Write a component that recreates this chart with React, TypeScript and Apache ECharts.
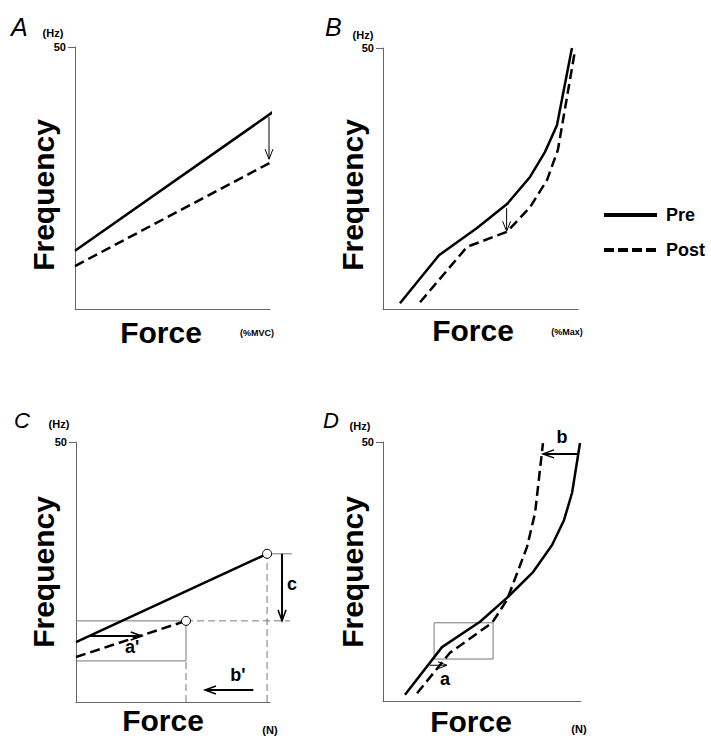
import React, { useEffect, useRef } from "react";
import * as echarts from "echarts";

const FONT = '"Liberation Sans", Arial, Helvetica, sans-serif';

// ---- Data (x: relative force 0-100, y: frequency 0-50 Hz) ----
const panelLetters = ["A", "B", "C", "D"];
const xUnits = ["(%MVC)", "(%Max)", "(N)", "(N)"];
const yUnit = "(Hz)";
const yTopTick = [50];
const legendNames = ["Pre", "Post"];

// Panel A
const aPre = [[0, 11.1], [101.5, 37.6]];
const aPost = [[0, 8.2], [101.5, 28.2]];
const aArrowsThin = [[99.5, 36.6, 99.5, 28.6]];

// Panel B
const bPre = [[8.7, 1.1], [28.7, 10.3], [48.2, 15.5], [63.6, 20.1], [75.4, 25.3], [83.1, 30.1], [89.2, 35.2], [96.9, 50.0]];
const bPost = [[19.0, 1.3], [43.1, 11.9], [63.6, 14.8], [75.4, 19.5], [84.1, 24.7], [89.7, 30.5], [98.5, 49.6]];
const bArrowsThin = [[63.4, 19.3, 63.4, 14.9]];

// Panel C
const cPre = [[0, 11.5], [98.5, 28.5]];
const cPost = [[0, 8.65], [56.7, 15.6]];
const cPoints = [[98.5, 28.5], [56.7, 15.6]];
const cGuidesSolid = [[0, 15.6, 56.7, 15.6], [0, 7.9, 56.7, 7.9], [56.7, 7.9, 56.7, 15.6], [98.5, 28.5, 111.3, 28.5]];
const cGuidesDashed = [[56.7, 15.6, 110.3, 15.6], [56.7, 0, 56.7, 7.9], [98.5, 0, 98.5, 28.5]];
const cArrowsThick = [[106.2, 28.5, 106.2, 15.6], [7.2, 12.7, 33.9, 12.7], [91.4, 2.3, 66.5, 2.3]];
const cLabels = [{ text: "c", x: 111.3, y: 22.7 }, { text: "a'", x: 28.9, y: 10.6 }, { text: "b'", x: 83.5, y: 5.2 }];

// Panel D
const dPre = [[11.1, 1.2], [29.8, 10.4], [49.0, 15.3], [62.6, 19.9], [75.8, 24.9], [85.4, 30.1], [91.4, 34.9], [95.5, 40.2], [99.5, 49.8]];
const dPost = [[17.2, 1.5], [33.8, 9.3], [55.1, 15.1], [62.6, 19.5], [72.7, 29.7], [76.8, 36.3], [80.8, 49.8]];
const dBoxes = [[25.8, 8.1, 55.6, 15.1]];
const dArrowsThin = [[23.7, 6.9, 32.3, 6.9]];
const dArrowsThick = [[98.0, 47.7, 80.8, 47.7]];
const dLabels = [{ text: "a", x: 31.3, y: 4.25 }, { text: "b", x: 90.4, y: 51.0 }];

// ---- Layout ----
const grids = [
  { left: 75, top: 47, width: 195, height: 262 },
  { left: 383, top: 48, width: 195, height: 261 },
  { left: 76, top: 442, width: 194, height: 260 },
  { left: 383, top: 442, width: 198, height: 259 },
];

const AXIS_COLOR = "#666";
const GUIDE_COLOR = "#777";

function lineSeries(name: string, data: number[][], gi: number, dashed: boolean) {
  return {
    type: "line",
    name,
    data,
    xAxisIndex: gi,
    yAxisIndex: gi,
    symbol: "none",
    clip: false,
    silent: true,
    z: 3,
    lineStyle: { color: "#000", width: 2.5, type: dashed ? [10, 5] : "solid" },
    itemStyle: { color: "#000" },
  };
}

function arrowSeries(data: number[][], gi: number, w: number, hl: number, hw: number) {
  return {
    type: "custom",
    xAxisIndex: gi,
    yAxisIndex: gi,
    data,
    clip: false,
    silent: true,
    z: 4,
    renderItem: (params: any, api: any) => {
      const p1 = api.coord([api.value(0), api.value(1)]);
      const p2 = api.coord([api.value(2), api.value(3)]);
      const dx = p2[0] - p1[0];
      const dy = p2[1] - p1[1];
      const len = Math.hypot(dx, dy) || 1;
      const ux = dx / len;
      const uy = dy / len;
      const b1 = [p2[0] - ux * hl - uy * hw, p2[1] - uy * hl + ux * hw];
      const b2 = [p2[0] - ux * hl + uy * hw, p2[1] - uy * hl - ux * hw];
      return {
        type: "group",
        children: [
          { type: "line", shape: { x1: p1[0], y1: p1[1], x2: p2[0], y2: p2[1] }, style: { stroke: "#000", lineWidth: w } },
          { type: "polyline", shape: { points: [b1, p2, b2] }, style: { stroke: "#000", fill: null, lineWidth: Math.max(1, w * 0.75) } },
        ],
      };
    },
  };
}

function segmentSeries(data: number[][], gi: number, dashed: boolean) {
  return {
    type: "custom",
    xAxisIndex: gi,
    yAxisIndex: gi,
    data,
    clip: false,
    silent: true,
    z: 2,
    renderItem: (params: any, api: any) => {
      const p1 = api.coord([api.value(0), api.value(1)]);
      const p2 = api.coord([api.value(2), api.value(3)]);
      return {
        type: "line",
        shape: { x1: p1[0], y1: p1[1], x2: p2[0], y2: p2[1] },
        style: { stroke: GUIDE_COLOR, lineWidth: 1, lineDash: dashed ? [7, 4] : null },
      };
    },
  };
}

function boxSeries(data: number[][], gi: number) {
  return {
    type: "custom",
    xAxisIndex: gi,
    yAxisIndex: gi,
    data,
    clip: false,
    silent: true,
    z: 2,
    renderItem: (params: any, api: any) => {
      const p1 = api.coord([api.value(0), api.value(1)]);
      const p2 = api.coord([api.value(2), api.value(3)]);
      return {
        type: "rect",
        shape: {
          x: Math.min(p1[0], p2[0]),
          y: Math.min(p1[1], p2[1]),
          width: Math.abs(p2[0] - p1[0]),
          height: Math.abs(p2[1] - p1[1]),
        },
        style: { stroke: GUIDE_COLOR, fill: null, lineWidth: 1 },
      };
    },
  };
}

function labelSeries(labels: { text: string; x: number; y: number }[], gi: number) {
  return {
    type: "custom",
    xAxisIndex: gi,
    yAxisIndex: gi,
    data: labels.map((l) => [l.x, l.y]),
    clip: false,
    silent: true,
    z: 5,
    renderItem: (params: any, api: any) => {
      const p = api.coord([api.value(0), api.value(1)]);
      return {
        type: "text",
        x: p[0],
        y: p[1],
        style: {
          text: labels[params.dataIndex].text,
          fill: "#000",
          fontSize: 18,
          fontWeight: "bold",
          fontFamily: FONT,
          align: "center",
          verticalAlign: "middle",
        },
      };
    },
  };
}

function txt(text: string, x: number, y: number, size: number, opts: any = {}) {
  return {
    type: "text",
    x,
    y,
    rotation: opts.rotation || 0,
    silent: true,
    style: {
      text,
      fill: "#000",
      fontSize: size,
      fontWeight: opts.weight || "bold",
      fontStyle: opts.style || "normal",
      fontFamily: FONT,
      align: opts.align || "center",
      verticalAlign: "middle",
    },
  };
}

export default function App() {
  const ref = useRef<HTMLDivElement>(null);

  useEffect(() => {
    if (!ref.current) return;
    const chart = echarts.init(ref.current, null, { renderer: "svg" });

    const xAxes = grids.map((_, i) => ({
      type: "value",
      gridIndex: i,
      min: 0,
      max: 100,
      axisLine: { show: true, onZero: false, lineStyle: { color: AXIS_COLOR, width: 1 } },
      axisTick: { show: false },
      axisLabel: { show: false },
      splitLine: { show: false },
    }));
    const yAxes = grids.map((_, i) => ({
      type: "value",
      gridIndex: i,
      min: 0,
      max: 50,
      axisLine: { show: true, onZero: false, lineStyle: { color: AXIS_COLOR, width: 1 } },
      axisTick: { show: true, length: 7, customValues: yTopTick, lineStyle: { color: AXIS_COLOR, width: 1 } },
      axisLabel: {
        show: true,
        customValues: yTopTick,
        margin: 9,
        fontSize: 11,
        fontWeight: "bold",
        color: "#000",
        fontFamily: FONT,
      },
      splitLine: { show: false },
    }));

    const letterPos = [[11, 27], [325, 27], [14, 420], [323, 420]];
    const letterSize = [25, 25, 22, 22];
    const hzPos = [[53, 33], [363, 35], [59, 424], [360, 426]];
    const freqPos = [[43, 195], [352, 195], [43, 572], [352, 572]];
    const forcePos = [[161, 332], [473, 330], [163, 720], [471, 721]];
    const unitPos = [[257, 333], [567, 332], [270, 730], [579, 729]];
    const unitSize = [9, 9, 11, 11];

    const graphic: any[] = [];
    for (let i = 0; i < 4; i++) {
      graphic.push(txt(panelLetters[i], letterPos[i][0], letterPos[i][1], letterSize[i], { weight: "normal", style: "italic", align: "left" }));
      graphic.push(txt(yUnit, hzPos[i][0], hzPos[i][1], 11));
      graphic.push(txt("Frequency", freqPos[i][0], freqPos[i][1], 30, { rotation: Math.PI / 2 }));
      graphic.push(txt("Force", forcePos[i][0], forcePos[i][1], 30));
      graphic.push(txt(xUnits[i], unitPos[i][0], unitPos[i][1], unitSize[i]));
    }

    const series: any[] = [
      lineSeries(legendNames[0], aPre, 0, false),
      lineSeries(legendNames[1], aPost, 0, true),
      arrowSeries(aArrowsThin, 0, 1, 10, 4),

      lineSeries(legendNames[0], bPre, 1, false),
      lineSeries(legendNames[1], bPost, 1, true),
      arrowSeries(bArrowsThin, 1, 1, 10, 4),

      segmentSeries(cGuidesSolid, 2, false),
      segmentSeries(cGuidesDashed, 2, true),
      lineSeries(legendNames[0], cPre, 2, false),
      lineSeries(legendNames[1], cPost, 2, true),
      arrowSeries(cArrowsThick, 2, 2, 11, 4),
      labelSeries(cLabels, 2),
      {
        type: "scatter",
        xAxisIndex: 2,
        yAxisIndex: 2,
        data: cPoints,
        symbol: "circle",
        symbolSize: 9,
        silent: true,
        clip: false,
        z: 6,
        itemStyle: { color: "#fff", borderColor: "#000", borderWidth: 1, opacity: 1 },
      },

      boxSeries(dBoxes, 3),
      lineSeries(legendNames[0], dPre, 3, false),
      lineSeries(legendNames[1], dPost, 3, true),
      arrowSeries(dArrowsThin, 3, 1, 9, 3.5),
      arrowSeries(dArrowsThick, 3, 2, 11, 4),
      labelSeries(dLabels, 3),
    ];

    const hiddenSymbol = { opacity: 0, color: "rgba(0,0,0,0)", borderWidth: 0 };

    chart.setOption({
      animation: false,
      backgroundColor: "#fff",
      textStyle: { fontFamily: FONT },
      grid: grids.map((g) => ({ ...g, containLabel: false, outerBoundsMode: "none" })),
      xAxis: xAxes,
      yAxis: yAxes,
      legend: {
        orient: "vertical",
        left: 597,
        top: 201,
        itemWidth: 53,
        itemHeight: 14,
        itemGap: 17,
        selectedMode: false,
        itemStyle: hiddenSymbol,
        data: [
          { name: legendNames[0], itemStyle: hiddenSymbol, lineStyle: { width: 4, type: "solid", color: "#000" } },
          { name: legendNames[1], itemStyle: hiddenSymbol, lineStyle: { width: 4, type: [10, 4], color: "#000" } },
        ],
        textStyle: { fontSize: 18, fontWeight: "bold", color: "#000", fontFamily: FONT, padding: [0, 0, 0, 4] },
      },
      graphic,
      series,
    });

    return () => chart.dispose();
  }, []);

  return (
    <div
      ref={ref}
      style={{ position: "absolute", left: 0, top: 0, width: 711, height: 736, background: "#fff" }}
    />
  );
}
